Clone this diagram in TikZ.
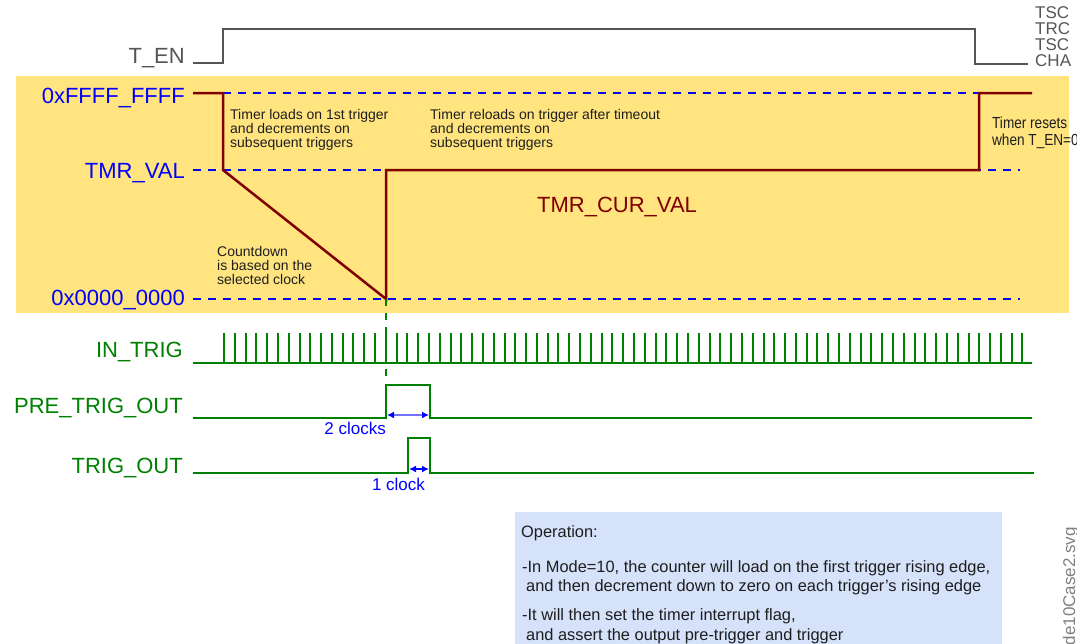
\documentclass[tikz,border=0pt]{standalone}
\usepackage{fontspec}
\setmainfont{Liberation Sans}
\usetikzlibrary{arrows.meta}
\definecolor{curRed}{RGB}{128,0,0}
\definecolor{sigGreen}{RGB}{0,128,0}
\definecolor{lvlBlue}{RGB}{0,0,255}
\definecolor{zoneYellow}{RGB}{255,228,128}
\definecolor{noteBlue}{RGB}{213,226,250}
\definecolor{enGray}{RGB}{85,85,85}
\definecolor{noteText}{RGB}{30,30,30}
\begin{document}
\begin{tikzpicture}[x = 1pt, y = -1pt,
	level/.style = {draw = lvlBlue, line width = 2pt, dash pattern = on 8pt off 7pt},
	sig/.style = {draw = sigGreen, line width = 2.5pt},
	pulse/.style = {draw = sigGreen, line width = 2pt},
	cur/.style = {draw = curRed, line width = 2.5pt},
	lbl/.style = {anchor = base east, inner sep = 0pt, font = \fontsize{22}{22}\selectfont},
	note/.style = {anchor = north west, inner sep = 0pt, align = left, text = noteText, font = \fontsize{14}{14}\selectfont},
	optext/.style = {anchor = base west, inner sep = 0pt, text = noteText, font = \fontsize{16.4}{18}\selectfont},
	clk/.style = {{Latex[length = 7pt, width = 7pt, color = lvlBlue]}-{Latex[length = 7pt, width = 7pt, color = lvlBlue]}, line width = 1.5pt},
	clklbl/.style = {inner sep = 0pt, text = lvlBlue, font = \fontsize{17}{17}\selectfont}
	]
	\useasboundingbox (0,0) rectangle (1077,643);
	\clip (0,0) rectangle (1077,643);
	\fill [zoneYellow] (16,76) rectangle (1069,313);
	\fill [noteBlue] (515,512) rectangle (1002,650);

	\node [lbl, text = enGray] (ten) at (185,63) {T\_EN};
	\draw [enGray, line width = 2pt] (193,63) -- (223,63) -- (223,29) -- (975,29) -- (975,64) -- (1028,64);
	\foreach \t [count = \i] in {TSC,TRC,TSC,CHA}{
	\node [anchor = base west, inner sep = 0pt, text = enGray, font = \fontsize{17}{17}\selectfont] (mode\i) at (1035,{2+16*\i}) {\t};
	}

	\node [lbl, text = lvlBlue] (vmax) at (185,103) {0xFFFF\_FFFF};
	\node [lbl, text = lvlBlue] (vtmr) at (185,178) {TMR\_VAL};
	\node [lbl, text = lvlBlue] (vzero) at (185,305) {0x0000\_0000};
	\draw [level] (193,93) -- (1020,93);
	\draw [level] (193,170) -- (1020,170);
	\draw [level] (193,299) -- (1020,299);

	\draw [cur] (193,93) -- (223,93) -- (223,170) -- (386,299) -- (386,170) -- (979,170) -- (979,93) -- (1032,93);
	\node [anchor = base west, inner sep = 0pt, text = curRed, font = \fontsize{22}{22}\selectfont] (curval) at (537,212) {TMR\_CUR\_VAL};

	\node [note] (load) at (230,109) {Timer loads on 1st trigger\\and decrements on\\subsequent triggers};
	\node [note] (reload) at (430,109) {Timer reloads on trigger after timeout\\and decrements on\\subsequent triggers};
	\node [note] (count) at (217,246) {Countdown\\is based on the\\selected clock};
	\node [note, xscale = 0.85, font = \fontsize{16}{17}\selectfont] (reset) at (992,117) {Timer resets\\when T\_EN=0};

	\node [lbl, text = sigGreen] (intrig) at (183,357) {IN\_TRIG};
	\node [lbl, text = sigGreen] (pretrig) at (183,413) {PRE\_TRIG\_OUT};
	\node [lbl, text = sigGreen] (trigout) at (183,473) {TRIG\_OUT};

	\draw [sigGreen, line width = 1.5pt, dash pattern = on 7pt off 7pt] (386,299) -- (386,383);
	\draw [sig] (193,363) -- (1032,363);
	\foreach \k in {0,...,74}{
	\draw [pulse] ({224+10.79*\k},363) -- ++(0,-30);
	}
	\draw [sig] (193,418) -- (386,418) -- (386,385) -- (430,385) -- (430,418) -- (1032,418);
	\draw [sig] (193,473) -- (408,473) -- (408,438) -- (430,438) -- (430,473) -- (1034,473);

	\draw [clk, draw = lvlBlue!55] (387,415) -- (429,415);
	\node [clklbl, anchor = base east] (twoclk) at (386,434) {2 clocks};
	\draw [clk, draw = lvlBlue] (409,469) -- (429,469);
	\node [clklbl, anchor = base] (oneclk) at (398.5,490) {1 clock};

	\node [optext] (op1) at (521,537) {Operation:};
	\node [optext] (op2) at (522,572) {-In Mode=10, the counter will load on the first trigger rising edge,};
	\node [optext] (op3) at (526,591) {and then decrement down to zero on each trigger's rising edge};
	\node [optext] (op4) at (522,620) {-It will then set the timer interrupt flag,};
	\node [optext] (op5) at (526,640) {and assert the output pre-trigger and trigger};

	\node [rotate = 90, anchor = base east, inner sep = 0pt, text = gray, font = \fontsize{17}{17}\selectfont] (fname) at (1075,527) {mode10Case2.svg};
\end{tikzpicture}
\end{document}
